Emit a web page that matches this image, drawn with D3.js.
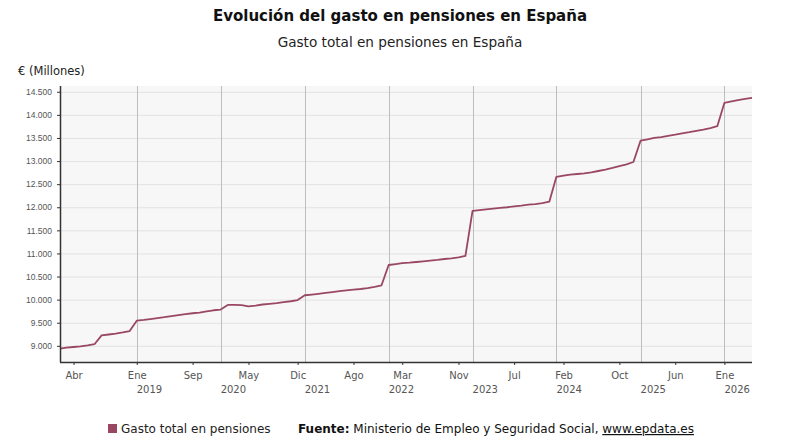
<!DOCTYPE html>
<html>
<head>
<meta charset="utf-8">
<script src="https://cdn.jsdelivr.net/npm/d3@7"></script>
<style>
  body { margin: 0; background: #fff; }
  svg { display: block; }
</style>
</head>
<body>
<div id="chart"></div>
<script>
// monthly spending, Feb 2018 .. May 2026 (millones de euros)
var startMonth = "2018-02";
var gasto = [
  8940, 8960, 8975, 8990, 9010, 9035, 9225, 9245, 9265, 9290, 9320,             // 2018 feb-dic
  9545, 9560, 9580, 9600, 9620, 9645, 9665, 9685, 9705, 9720, 9745, 9770,       // 2019
  9785, 9885, 9885, 9880, 9855, 9870, 9895, 9910, 9925, 9945, 9965, 9990,       // 2020
  10095, 10110, 10125, 10145, 10165, 10185, 10200, 10215, 10230, 10250, 10275, 10310, // 2021
  10750, 10770, 10790, 10800, 10815, 10830, 10845, 10860, 10880, 10895, 10915, 10945, // 2022
  11920, 11940, 11955, 11970, 11985, 12000, 12020, 12035, 12055, 12070, 12090, 12120, // 2023
  12660, 12685, 12705, 12720, 12735, 12755, 12785, 12815, 12850, 12890, 12930, 12980, // 2024
  13440, 13470, 13500, 13520, 13545, 13570, 13600, 13625, 13655, 13680, 13715, 13755, // 2025
  14260, 14290, 14320, 14345, 14370                                              // 2026 ene-may
];
var meses = ["Ene","Feb","Mar","Abr","May","Jun","Jul","Ago","Sep","Oct","Nov","Dic"];
var xTicks = ["2018-04","2019-01","2019-09","2020-05","2020-12","2021-08","2022-03",
              "2022-11","2023-07","2024-02","2024-10","2025-06","2026-01"];
var years = [2019, 2020, 2021, 2022, 2023, 2024, 2025, 2026];
var yTicks = d3.range(9000, 14501, 500);

var parseMonth = d3.timeParse("%Y-%m");
var t0 = parseMonth(startMonth);
var data = gasto.map(function(v, i) {
  return { date: d3.timeMonth.offset(t0, i), value: v };
});

var width = 800, height = 445;
var margin = { top: 86, right: 48, bottom: 83, left: 60 };
var w = width - margin.left - margin.right,
    h = height - margin.top - margin.bottom;

var svg = d3.select("#chart").append("svg")
  .attr("width", width).attr("height", height);

// titles
svg.append("text")
  .attr("x", 400).attr("y", 21)
  .attr("text-anchor", "middle")
  .style("font-family", "DejaVu Sans")
  .style("font-weight", "bold")
  .style("font-size", "15px")
  .style("fill", "#111")
  .text("Evolución del gasto en pensiones en España");

svg.append("text")
  .attr("x", 400).attr("y", 47)
  .attr("text-anchor", "middle")
  .style("font-family", "DejaVu Sans")
  .style("font-size", "13.6px")
  .style("fill", "#222")
  .text("Gasto total en pensiones en España");

svg.append("text")
  .attr("x", 18).attr("y", 75)
  .style("font-family", "DejaVu Sans")
  .style("font-size", "11.5px")
  .style("fill", "#222")
  .text("€ (Millones)");

var g = svg.append("g")
  .attr("transform", "translate(" + margin.left + "," + margin.top + ")");

var x = d3.scaleTime()
  .domain([t0, parseMonth("2026-05")])
  .range([0, w]);

var y = d3.scaleLinear()
  .domain([8650, 14625])
  .range([h, 0]);

// plot background
g.append("rect")
  .attr("width", w).attr("height", h)
  .attr("fill", "#f7f7f7");

// horizontal grid
g.append("g")
  .selectAll("line")
  .data(yTicks)
  .enter().append("line")
    .attr("x1", 0).attr("x2", w)
    .attr("y1", function(d) { return y(d) + 0.5; })
    .attr("y2", function(d) { return y(d) + 0.5; })
    .attr("stroke", "#e2e2e2");

// vertical year lines
g.append("g")
  .selectAll("line")
  .data(years)
  .enter().append("line")
    .attr("x1", function(d) { return Math.round(x(new Date(d, 0, 1))) + 0.5; })
    .attr("x2", function(d) { return Math.round(x(new Date(d, 0, 1))) + 0.5; })
    .attr("y1", 0).attr("y2", h)
    .attr("stroke", "#bdbdbd");

// line
g.append("path")
  .datum(data)
  .attr("fill", "none")
  .attr("stroke", "#9a4862")
  .attr("stroke-width", 1.8)
  .attr("stroke-linejoin", "round")
  .attr("d", d3.line()
    .x(function(d) { return x(d.date); })
    .y(function(d) { return y(d.value); }));

// y axis
var y_axis = d3.axisLeft(y)
  .tickValues(yTicks)
  .tickSize(3)
  .tickPadding(5)
  .tickFormat(function(d) { return d3.format(",")(d).replace(/,/g, "."); });

var yg = g.append("g").call(y_axis);
yg.select(".domain").remove();
yg.selectAll("line").attr("stroke", "#333");
yg.selectAll("text")
  .style("font-family", "Liberation Sans")
  .style("font-size", "8.5px")
  .style("fill", "#555");

g.append("line")
  .attr("x1", 0.5).attr("x2", 0.5)
  .attr("y1", 0).attr("y2", h)
  .attr("stroke", "#333").attr("stroke-width", 1.5);

// x axis
var tickDates = xTicks.map(parseMonth);
var x_axis = d3.axisBottom(x)
  .tickValues(tickDates)
  .tickSize(3)
  .tickPadding(7)
  .tickFormat(function(d) { return meses[d.getMonth()]; });

var xg = g.append("g")
  .attr("transform", "translate(0," + h + ")")
  .call(x_axis);
xg.select(".domain").remove();
xg.selectAll("line").attr("stroke", "#333");
xg.selectAll("text")
  .style("font-family", "DejaVu Sans")
  .style("font-size", "10px")
  .style("fill", "#555");

g.append("line")
  .attr("x1", 0).attr("x2", w)
  .attr("y1", h + 0.5).attr("y2", h + 0.5)
  .attr("stroke", "#333").attr("stroke-width", 1.5);

// year labels under the months
g.append("g")
  .selectAll("text")
  .data(years)
  .enter().append("text")
    .attr("x", function(d) { return x(new Date(d, 0, 1)); })
    .attr("y", h + 31)
    .style("font-family", "DejaVu Sans")
    .style("font-size", "10px")
    .style("fill", "#555")
    .text(function(d) { return d; });

// legend + source
svg.append("rect")
  .attr("x", 108).attr("y", 424)
  .attr("width", 9).attr("height", 9)
  .attr("fill", "#9a4862");

svg.append("text")
  .attr("x", 121).attr("y", 433)
  .style("font-family", "DejaVu Sans")
  .style("font-size", "12px")
  .style("fill", "#222")
  .text("Gasto total en pensiones");

var src = svg.append("text")
  .attr("x", 298).attr("y", 433)
  .style("font-family", "DejaVu Sans")
  .style("font-size", "12px")
  .style("fill", "#111");
src.append("tspan").style("font-weight", "bold").text("Fuente:");
src.append("tspan").text(" Ministerio de Empleo y Seguridad Social, ");
src.append("tspan").style("text-decoration", "underline").text("www.epdata.es");
</script>
</body>
</html>
